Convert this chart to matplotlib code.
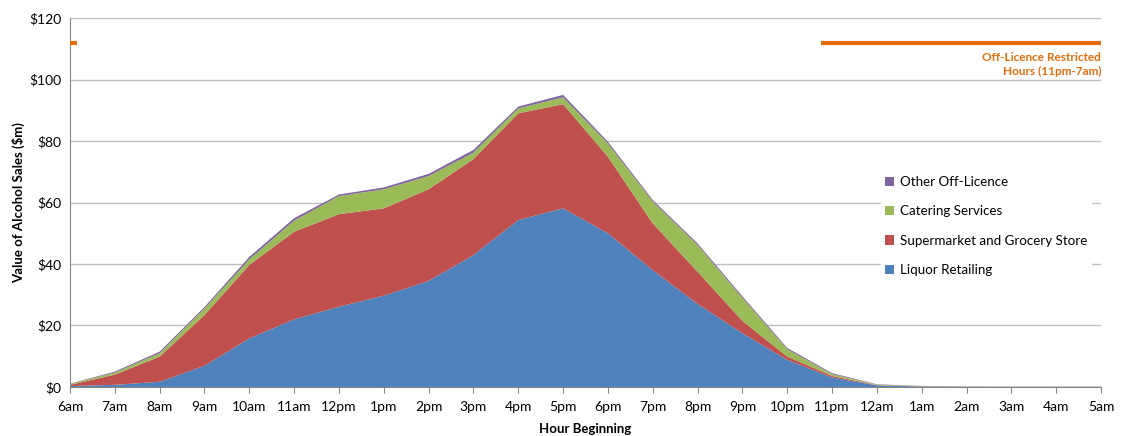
import matplotlib.pyplot as plt

plt.rcParams['font.family'] = ['Lato', 'DejaVu Sans']

hours = ['6am', '7am', '8am', '9am', '10am', '11am', '12pm', '1pm', '2pm', '3pm', '4pm', '5pm',
         '6pm', '7pm', '8pm', '9pm', '10pm', '11pm', '12am', '1am', '2am', '3am', '4am', '5am']

liquor = [0.3, 0.7, 1.7, 6.9, 15.8, 22.0, 26.1, 29.7, 34.5, 42.9, 54.3, 58.1,
          50.0, 38.0, 27.0, 17.5, 8.8, 3.1, 0.5, 0.15, 0.08, 0.05, 0.05, 0.05]
supermarket = [0.4, 3.3, 8.2, 16.5, 23.9, 28.5, 30.1, 28.4, 29.8, 31.2, 34.7, 33.9,
               24.9, 15.2, 10.5, 4.0, 1.1, 0.5, 0.1, 0.05, 0.02, 0.01, 0.01, 0.01]
catering = [0.3, 0.7, 1.1, 2.1, 1.8, 3.6, 5.9, 6.2, 4.3, 2.1, 1.6, 2.2,
            4.3, 7.1, 8.7, 7.5, 2.4, 0.6, 0.2, 0.1, 0.05, 0.04, 0.04, 0.04]
other = [0.1, 0.3, 0.5, 0.5, 0.8, 0.8, 0.5, 0.6, 0.7, 0.9, 0.6, 0.8,
         0.6, 0.5, 0.5, 0.5, 0.4, 0.3, 0.1, 0.05, 0.03, 0.02, 0.02, 0.02]

# restricted hours marker (in hour-index units) and its level
restricted_spans = [(16.75, 23.0), (0.0, 0.16)]
restricted_level = 112

colors = ['#4F81BD', '#C0504D', '#9BBB59', '#8064A2']
orange = '#E46C0A'

fig = plt.figure(figsize=(11.25, 4.36), dpi=100)
ax = fig.add_axes([0.0622, 0.1124, 0.9165, 0.8463])

x = list(range(len(hours)))
ax.stackplot(x, liquor, supermarket, catering, other, colors=colors,
             labels=['Liquor Retailing', 'Supermarket and Grocery Store',
                     'Catering Services', 'Other Off-Licence'], zorder=2)

for a, b in restricted_spans:
    ax.plot([a, b], [restricted_level, restricted_level], color=orange, lw=3,
            solid_capstyle='butt', zorder=3)
ax.text(23, 109, 'Off-Licence Restricted\nHours (11pm-7am)', color=orange,
        fontsize=8.5, fontweight='bold', ha='right', va='top', linespacing=1.35)

ax.set_xlim(0, 23)
ax.set_ylim(0, 120)
ax.set_xticks(x)
ax.set_xticklabels(hours, fontsize=10)
ax.set_yticks(range(0, 121, 20))
ax.set_yticklabels(['$%d' % v for v in range(0, 121, 20)], fontsize=10)
ax.tick_params(axis='y', length=0, pad=6)
ax.tick_params(axis='x', length=4, color='#868686', pad=6)
ax.yaxis.grid(True, color='#BFBFBF', lw=1)
ax.set_axisbelow(True)
for s in ['top', 'right']:
    ax.spines[s].set_visible(False)
for s in ['left', 'bottom']:
    ax.spines[s].set_color('#868686')

ax.set_xlabel('Hour Beginning', fontsize=9.5, fontweight='bold', labelpad=7)
ax.set_ylabel('Value of Alcohol Sales ($m)', fontsize=9.5, fontweight='bold', labelpad=3)

handles, labels = ax.get_legend_handles_labels()
leg = ax.legend(handles[::-1], labels[::-1], loc='center left', bbox_to_anchor=(0.78, 0.436),
                frameon=True, framealpha=1, edgecolor='white', fontsize=9.6,
                handlelength=0.7, handleheight=0.7, handletextpad=0.4,
                labelspacing=1.3, borderpad=0.3)

fig.savefig('out.png', dpi=100)
